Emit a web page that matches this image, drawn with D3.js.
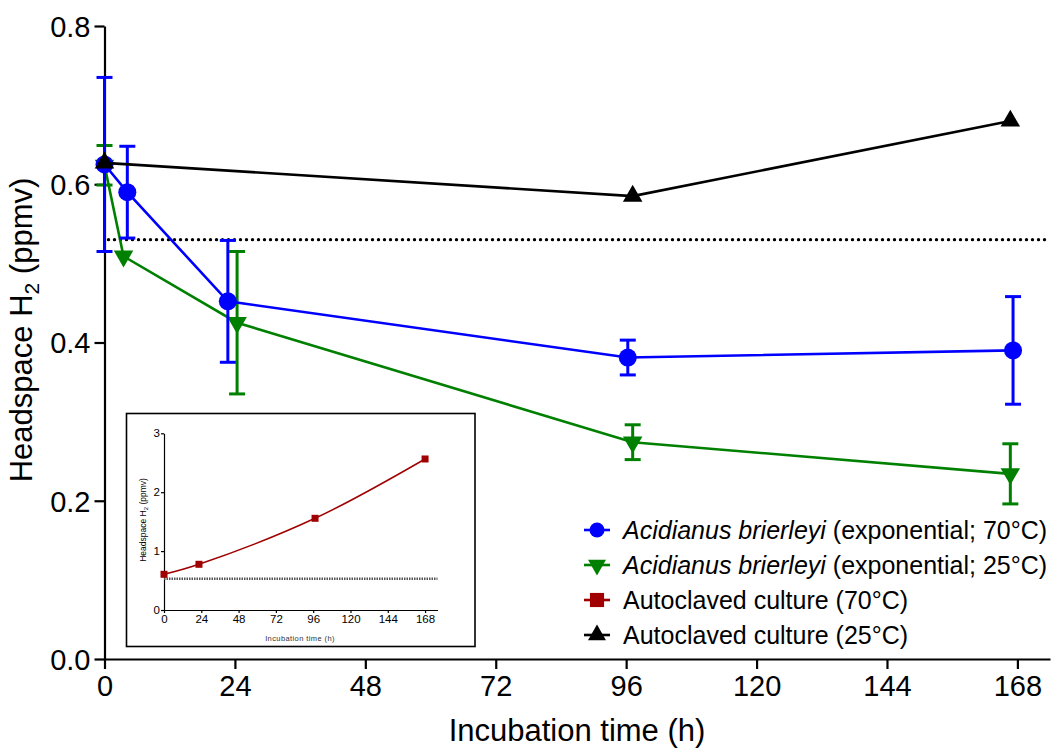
<!DOCTYPE html>
<html lang="en">
<head>
    <meta charset="UTF-8">
    <title>Headspace H2 over incubation time</title>
    <style>
        body { margin: 0; background: #fff; }
        svg { display: block; font-family: Arial, "Liberation Sans", sans-serif; }
    </style>
</head>
<body>
    <div id="chart"></div>
    <script src="https://d3js.org/d3.v7.min.js"></script>
    <script>
        // Acidianus brierleyi, exponential, 70 °C (blue circles)
        const blueTime = [0, 4.2, 22.7, 96.3, 167.2];
        const blueMean = [0.625, 0.590, 0.452, 0.381, 0.390];
        const blueErr  = [0.110, 0.058, 0.077, 0.022, 0.068];

        // Acidianus brierleyi, exponential, 25 °C (green triangles down)
        const greenTime = [0, 3.5, 24.4, 97.2, 166.7];
        const greenMean = [0.624, 0.509, 0.425, 0.274, 0.234];
        const greenErr  = [0.025, 0, 0.090, 0.022, 0.038];

        // Autoclaved culture, 25 °C (black triangles up)
        const blackTime = [0, 97.2, 166.7];
        const blackMean = [0.627, 0.585, 0.680];

        // Autoclaved culture, 70 °C (inset, red squares)
        const redTime = [0, 22.5, 97.2, 168];
        const redMean = [0.606, 0.776, 1.557, 2.564];

        const baseline = 0.53;

        const xTicks = [0, 24, 48, 72, 96, 120, 144, 168];
        const yTicks = [0, 0.2, 0.4, 0.6, 0.8];
        const insetYTicks = [0, 1, 2, 3];

        const legendLabels = [
            { italic: "Acidianus brierleyi", rest: " (exponential; 70°C)" },
            { italic: "Acidianus brierleyi", rest: " (exponential; 25°C)" },
            { italic: "", rest: "Autoclaved culture (70°C)" },
            { italic: "", rest: "Autoclaved culture (25°C)" }
        ];

        const W = 1055, H = 749;
        const svg = d3.select("#chart").append("svg")
            .attr("width", W).attr("height", H);

        const x = d3.scaleLinear().domain([0, 174]).range([104.5, 1050]);
        const y = d3.scaleLinear().domain([0, 0.8]).range([659, 26]);

        // axes
        const xAxis = svg.append("g")
            .attr("transform", `translate(0,${y(0)})`)
            .call(d3.axisBottom(x).tickValues(xTicks).tickSize(10).tickPadding(6).tickSizeOuter(0));
        const yAxis = svg.append("g")
            .attr("transform", `translate(${x(0)},0)`)
            .call(d3.axisLeft(y).tickValues(yTicks).tickFormat(d3.format(".1f")).tickSize(10).tickPadding(4).tickSizeOuter(0));
        [xAxis, yAxis].forEach(a => {
            a.select(".domain").attr("stroke", "#000").attr("stroke-width", 2.2);
            a.selectAll(".tick line").attr("stroke", "#000").attr("stroke-width", 2.2);
            a.selectAll(".tick text").attr("font-size", 29).attr("fill", "#000").attr("font-family", "Arial, 'Liberation Sans', sans-serif");
        });
        xAxis.selectAll(".tick text").attr("dy", "0.71em");
        yAxis.selectAll(".tick text").attr("dy", "0.36em");

        svg.append("text")
            .attr("x", 577).attr("y", 741)
            .attr("text-anchor", "middle").attr("font-size", 31)
            .text("Incubation time (h)");

        const yTitle = svg.append("text")
            .attr("transform", "translate(32,330) rotate(-90)")
            .attr("text-anchor", "middle").attr("font-size", 31);
        yTitle.append("tspan").text("Headspace H");
        yTitle.append("tspan").attr("font-size", 21).attr("dy", 7).text("2");
        yTitle.append("tspan").attr("dy", -7).text(" (ppmv)");

        // dotted baseline
        svg.append("line")
            .attr("x1", x(0) + 4).attr("x2", x(174))
            .attr("y1", y(baseline)).attr("y2", y(baseline))
            .attr("stroke", "#000").attr("stroke-width", 3.4)
            .attr("stroke-linecap", "round").attr("stroke-dasharray", "0,6");

        const line = d3.line().x(d => x(d.t)).y(d => y(d.v));
        const pack = (ts, vs, es) => ts.map((t, i) => ({ t: t, v: vs[i], e: es ? es[i] : 0 }));

        const tri = d3.symbol().type(d3.symbolTriangle).size(165);
        const circ = d3.symbol().type(d3.symbolCircle).size(Math.PI * 9 * 9);

        function drawSeries(data, color, marker) {
            const g = svg.append("g");
            g.append("path").datum(data)
                .attr("d", line).attr("fill", "none")
                .attr("stroke", color).attr("stroke-width", 2.6);
            const bars = g.selectAll(".eb").data(data.filter(d => d.e > 0)).enter().append("g");
            bars.append("line")
                .attr("x1", d => x(d.t)).attr("x2", d => x(d.t))
                .attr("y1", d => y(d.v + d.e)).attr("y2", d => y(d.v - d.e))
                .attr("stroke", color).attr("stroke-width", 3);
            [1, -1].forEach(s => {
                bars.append("line")
                    .attr("x1", d => x(d.t) - 8).attr("x2", d => x(d.t) + 8)
                    .attr("y1", d => y(d.v + s * d.e)).attr("y2", d => y(d.v + s * d.e))
                    .attr("stroke", color).attr("stroke-width", 3);
            });
            g.selectAll(".pt").data(data).enter().append("path")
                .attr("d", marker.sym)
                .attr("transform", d => `translate(${x(d.t)},${y(d.v)}) rotate(${marker.rot})`)
                .attr("fill", color);
        }

        drawSeries(pack(greenTime, greenMean, greenErr), "#008000", { sym: tri, rot: 180 });
        drawSeries(pack(blueTime, blueMean, blueErr), "#0000ff", { sym: circ, rot: 0 });
        drawSeries(pack(blackTime, blackMean), "#000000", { sym: tri, rot: 0 });

        // legend
        const legendMarkers = [
            { color: "#0000ff", sym: d3.symbol().type(d3.symbolCircle).size(Math.PI * 7.5 * 7.5)(), rot: 0 },
            { color: "#008000", sym: d3.symbol().type(d3.symbolTriangle).size(140)(), rot: 180 },
            { color: "#a00000", sym: d3.symbol().type(d3.symbolSquare).size(200)(), rot: 0 },
            { color: "#000000", sym: d3.symbol().type(d3.symbolTriangle).size(140)(), rot: 0 }
        ];
        const legend = svg.append("g");
        legendLabels.forEach((lab, i) => {
            const cy = 530 + i * 35;
            const m = legendMarkers[i];
            legend.append("line")
                .attr("x1", 584).attr("x2", 610).attr("y1", cy).attr("y2", cy)
                .attr("stroke", m.color).attr("stroke-width", 2.6);
            legend.append("path").attr("d", m.sym)
                .attr("transform", `translate(597,${cy}) rotate(${m.rot})`)
                .attr("fill", m.color);
            const t = legend.append("text")
                .attr("x", 623).attr("y", cy + 9).attr("font-size", 25);
            if (lab.italic) t.append("tspan").attr("font-style", "italic").text(lab.italic);
            t.append("tspan").text(lab.rest);
        });

        // inset
        const inset = svg.append("g");
        inset.append("rect")
            .attr("x", 126.5).attr("y", 413.5).attr("width", 348.5).attr("height", 233)
            .attr("fill", "#fff").attr("stroke", "#000").attr("stroke-width", 1.6);

        const ix = d3.scaleLinear().domain([0, 176]).range([164, 437.5]);
        const iy = d3.scaleLinear().domain([0, 3]).range([610, 433.3]);

        const ixAxis = inset.append("g")
            .attr("transform", `translate(0,${iy(0)})`)
            .call(d3.axisBottom(ix).tickValues(xTicks).tickSize(3).tickPadding(2).tickSizeOuter(0));
        const iyAxis = inset.append("g")
            .attr("transform", `translate(${ix(0)},0)`)
            .call(d3.axisLeft(iy).tickValues(insetYTicks).tickFormat(d3.format("d")).tickSize(3).tickPadding(1).tickSizeOuter(0));
        [ixAxis, iyAxis].forEach(a => {
            a.select(".domain").attr("stroke", "#000").attr("stroke-width", 1.2);
            a.selectAll(".tick line").attr("stroke", "#000").attr("stroke-width", 1.2);
            a.selectAll(".tick text").attr("font-size", 11.5).attr("fill", "#000").attr("font-family", "Arial, 'Liberation Sans', sans-serif");
        });

        inset.append("text")
            .attr("x", 300).attr("y", 641)
            .attr("text-anchor", "middle").attr("font-size", 7.5).attr("fill", "#333")
            .attr("letter-spacing", 0.4)
            .text("Incubation time (h)");
        const iyTitle = inset.append("text")
            .attr("transform", "translate(146,520) rotate(-90)")
            .attr("text-anchor", "middle").attr("font-size", 8.5);
        iyTitle.append("tspan").text("Headspace H");
        iyTitle.append("tspan").attr("font-size", 6).attr("dy", 2).text("2");
        iyTitle.append("tspan").attr("dy", -2).text(" (ppmv)");

        inset.append("line")
            .attr("x1", ix(0)).attr("x2", ix(176))
            .attr("y1", iy(baseline)).attr("y2", iy(baseline))
            .attr("stroke", "#555").attr("stroke-width", 2.6)
            .attr("stroke-dasharray", "1.5,1");

        const redData = pack(redTime, redMean);
        inset.append("path").datum(redData)
            .attr("d", d3.line().x(d => ix(d.t)).y(d => iy(d.v)).curve(d3.curveCatmullRom))
            .attr("fill", "none").attr("stroke", "#a00000").attr("stroke-width", 1.5);
        inset.selectAll(".sq").data(redData).enter().append("rect")
            .attr("x", d => ix(d.t) - 3.5).attr("y", d => iy(d.v) - 3.5)
            .attr("width", 7).attr("height", 7)
            .attr("fill", "#a00000");
    </script>
</body>
</html>
